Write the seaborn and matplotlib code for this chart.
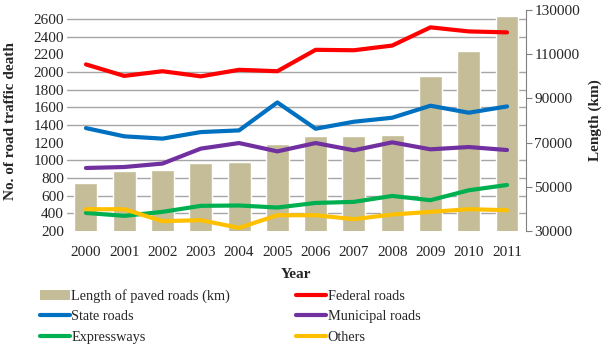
import numpy as np
import pandas as pd
import matplotlib
matplotlib.use("Agg")
import matplotlib.pyplot as plt
from matplotlib.patches import Patch
from matplotlib.lines import Line2D
import seaborn as sns

# data
years = ["2000", "2001", "2002", "2003", "2004", "2005",
         "2006", "2007", "2008", "2009", "2010", "2011"]
paved_km = [51700, 57100, 57600, 60700, 61200, 69600,
            72800, 73100, 73600, 100100, 111600, 127500]
federal = [2085, 1955, 2008, 1950, 2024, 2008, 2250, 2245, 2298, 2504, 2458, 2447]
state = [1365, 1272, 1246, 1320, 1339, 1655, 1358, 1437, 1482, 1618, 1539, 1610]
municipal = [914, 925, 964, 1133, 1196, 1102, 1196, 1114, 1204, 1125, 1151, 1117]
expressways = [406, 373, 418, 486, 490, 467, 519, 531, 598, 550, 662, 722]
others = [448, 448, 313, 324, 237, 380, 380, 335, 388, 418, 448, 437]

series_names = ["Federal roads", "State roads", "Municipal roads", "Expressways", "Others"]
series_vals = [federal, state, municipal, expressways, others]
colors = ["#FF0000", "#0070C0", "#7030A0", "#00B050", "#FFC000"]
bar_color = "#C4BD97"

left_lim = (200, 2700)
right_lim = (30000, 130000)
left_ticks = np.arange(200, 2601, 200)
right_ticks = np.arange(30000, 130001, 20000)

sns.set_style("white")
plt.rcParams["font.family"] = ["Liberation Serif", "DejaVu Serif"]
plt.rcParams["font.size"] = 11

df_bar = pd.DataFrame({"Year": years, "Length": paved_km})
rows = []
for name, vals in zip(series_names, series_vals):
    for y, v in zip(years, vals):
        rows.append({"Year": y, "Road": name, "Deaths": v})
df_line = pd.DataFrame(rows)

fig = plt.figure(figsize=(6.02, 3.45), dpi=100)
ax = fig.add_axes([0.111, 0.330, 0.763, 0.641])
ax2 = ax.twinx()

# bars on the right axis, drawn behind the lines
sns.barplot(data=df_bar, x="Year", y="Length", color=bar_color, width=0.6,
            saturation=1, ax=ax2, zorder=2)
ax2.set_ylim(*right_lim)
ax2.set_yticks(right_ticks)
ax2.yaxis.set_major_formatter(matplotlib.ticker.FuncFormatter(lambda v, p: f"{int(v)}"))

# gridlines placed at the left-axis ticks, on the back axes
def to_right(v):
    return right_lim[0] + (v - left_lim[0]) * (right_lim[1] - right_lim[0]) / (left_lim[1] - left_lim[0])

ax2.set_yticks(to_right(left_ticks), minor=True)
ax2.grid(False)
ax2.grid(which="minor", axis="y", color="#a6a6a6", lw=1.0, zorder=0)
ax2.set_axisbelow(True)
ax2.tick_params(which="minor", length=0)
ax2.tick_params(axis="y", which="major", direction="out", length=4, width=0.8,
                color="#808080", labelsize=11, pad=2)
ax2.set_ylabel("Length (km)", fontweight="bold", fontsize=11, labelpad=6)

# lines on the left axis
ax.set_zorder(ax2.get_zorder() + 1)
ax.patch.set_visible(False)
sns.lineplot(data=df_line, x="Year", y="Deaths", hue="Road", palette=colors,
             hue_order=series_names, sort=False, lw=3, legend=False, ax=ax)
ax.set_ylim(*left_lim)
ax.set_yticks(left_ticks)
ax.set_xlim(-0.5, len(years) - 0.5)
ax.tick_params(axis="y", length=0, labelsize=11, pad=2)
ax.tick_params(axis="x", length=0, labelsize=11, pad=11)
ax.set_xlabel("Year", fontweight="bold", fontsize=11, labelpad=6)
ax.set_ylabel("No. of road traffic death", fontweight="bold", fontsize=11, labelpad=12)

for a in (ax, ax2):
    for side in ("top", "left", "bottom", "right"):
        a.spines[side].set_visible(False)
ax2.spines["right"].set_visible(True)
ax2.spines["right"].set_color("#808080")
ax2.spines["right"].set_linewidth(0.8)

handles = [Patch(facecolor=bar_color, edgecolor="none", label="Length of paved roads (km)")]
handles += [Line2D([0], [0], color=c, lw=3, label=n) for n, c in zip(series_names, colors)]
order = [0, 2, 4, 1, 3, 5]
fig.legend([handles[i] for i in order], [handles[i].get_label() for i in order],
           loc="upper left", bbox_to_anchor=(40 / 602, 1 - 289 / 345), ncol=2,
           frameon=False, borderpad=0, borderaxespad=0, handlelength=2.1,
           handleheight=0.7, handletextpad=0.1, labelspacing=0.52,
           columnspacing=4.6, fontsize=10.3)

fig.savefig("out.png", dpi=100)
